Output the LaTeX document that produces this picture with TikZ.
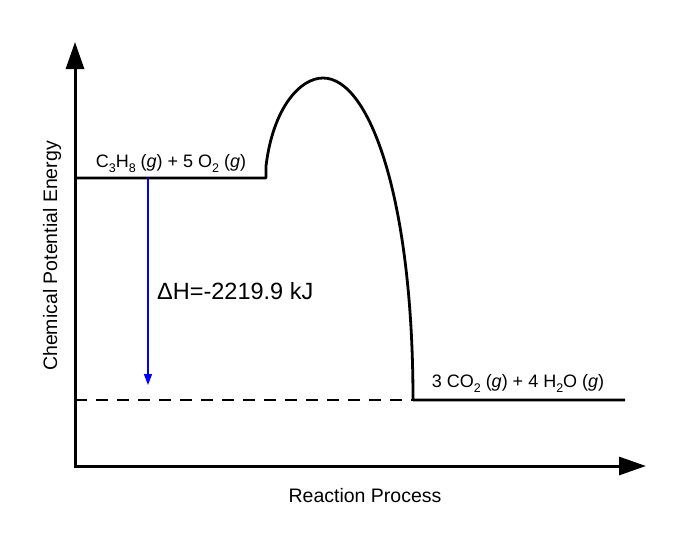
\documentclass[tikz,border=0pt]{standalone}
\usepackage{fontspec}
\setmainfont{Liberation Sans}
\usetikzlibrary{arrows.meta}
\newcommand\chemsub[1]{\raisebox{-0.32em}{\fontsize{12.5}{14}\selectfont #1}}
\begin{document}
\begin{tikzpicture}[x=1pt,y=-1pt,
  axisline/.style={line width=3pt,{Triangle[width=18pt,length=27pt]}-{Triangle[width=18pt,length=27pt]}},
  level/.style={line width=2.8pt},
  dashlevel/.style={line width=2.8pt,dash pattern=on 12pt off 9pt},
  dharrow/.style={line width=1.5pt,draw=blue,-{Triangle[width=8pt,length=11pt]}},
  chemlabel/.style={font=\fontsize{18}{21}\selectfont,anchor=base,inner sep=0pt},
  axislabel/.style={font=\fontsize{19.5}{23}\selectfont,inner sep=0pt},
  dhlabel/.style={font=\fontsize{23.5}{28}\selectfont,anchor=base west,inner sep=0pt}
]
\useasboundingbox (0,0) rectangle (685,542);
\coordinate (ytip) at (75,42);
\coordinate (origin) at (75,466);
\coordinate (xtip) at (646,466);
\draw[axisline] (ytip) -- (origin) -- (xtip);

\coordinate (r0) at (75,178);
\coordinate (r1) at (266,178);
\coordinate (peak) at (323,78);
\coordinate (p0) at (413,400);
\coordinate (p1) at (625,400);

\draw[level,line join=round] (r0) -- (r1) -- (266,166)
  .. controls (273,108) and (300,78) .. (peak)
  .. controls (370,78) and (413,200) .. (p0) -- (p1);
\draw[dashlevel] (75,400) -- (p0);

\coordinate (dhtop) at (148,178);
\coordinate (dhbot) at (148,385);
\draw[dharrow] (dhtop) -- (dhbot);

\node[chemlabel] (react) at (171,167) {C\chemsub{3}H\chemsub{8} (\textit{g}) + 5 O\chemsub{2} (\textit{g})};
\node[chemlabel] (prod) at (518,387) {3 CO\chemsub{2} (\textit{g}) + 4 H\chemsub{2}O (\textit{g})};
\node[dhlabel] (dh) at (157,299) {ΔH=-2219.9 kJ};
\node[axislabel,anchor=base] (xlab) at (365,502) {Reaction Process};
\node[axislabel,rotate=90] (ylab) at (52,256) {Chemical Potential Energy};
\end{tikzpicture}
\end{document}
